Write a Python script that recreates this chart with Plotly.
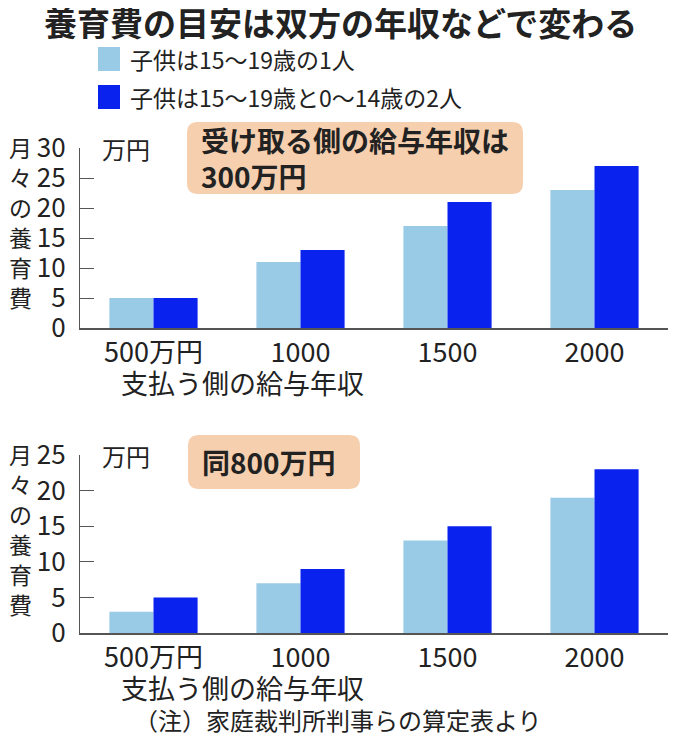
import plotly.graph_objects as go
from plotly.subplots import make_subplots

# data
categories = ["500万円", "1000", "1500", "2000"]
series_names = ["子供は15〜19歳の1人", "子供は15〜19歳と0〜14歳の2人"]
top_one_child = [5, 11, 17, 23]
top_two_children = [5, 13, 21, 27]
bottom_one_child = [3, 7, 13, 19]
bottom_two_children = [5, 9, 15, 23]

# the page puts the figure 8px in from the corner, so the figure is drawn 8px smaller
OFF = 8
W, H = 680 - OFF, 743 - OFF
FONT = "Noto Sans CJK JP"
TXT = "#222222"
LIGHT = "#9acbe6"
DARK = "#0a22ee"
BOXFILL = "#f6cfae"
AXIS = "#555555"


def px(x):
    # screen pixel -> paper x
    return (x - OFF) / W


def py(y):
    # screen pixel -> paper y
    return 1 - (y - OFF) / H


def rounded_box(x0, y0, x1, y1, r=11):
    pts = [
        ("M", [(x0 + r, y0)]), ("L", [(x1 - r, y0)]), ("Q", [(x1, y0), (x1, y0 + r)]),
        ("L", [(x1, y1 - r)]), ("Q", [(x1, y1), (x1 - r, y1)]),
        ("L", [(x0 + r, y1)]), ("Q", [(x0, y1), (x0, y1 - r)]),
        ("L", [(x0, y0 + r)]), ("Q", [(x0, y0), (x0 + r, y0)]),
    ]
    s = ""
    for cmd, ps in pts:
        s += cmd + " " + " ".join(f"{px(a):.5f},{py(b):.5f}" for a, b in ps) + " "
    return s + "Z"


fig = make_subplots(rows=2, cols=1)

fig.add_trace(go.Bar(x=categories, y=top_one_child, name=series_names[0],
                     marker=dict(color=LIGHT, line=dict(width=0))), row=1, col=1)
fig.add_trace(go.Bar(x=categories, y=top_two_children, name=series_names[1],
                     marker=dict(color=DARK, line=dict(width=0))), row=1, col=1)
fig.add_trace(go.Bar(x=categories, y=bottom_one_child, name=series_names[0],
                     marker=dict(color=LIGHT, line=dict(width=0))), row=2, col=1)
fig.add_trace(go.Bar(x=categories, y=bottom_two_children, name=series_names[1],
                     marker=dict(color=DARK, line=dict(width=0))), row=2, col=1)

xdom = [px(80), px(668)]
xaxis_style = dict(domain=xdom, showline=True, linecolor=AXIS, linewidth=1.5,
                   ticks="", showgrid=False, zeroline=False, range=[-0.5, 3.5],
                   automargin=False,
                   tickfont=dict(family=FONT, size=27, color=TXT), ticklabelstandoff=0)
yaxis_style = dict(showline=True, linecolor=AXIS, linewidth=1.2, ticks="inside",
                   ticklen=14, tickcolor=AXIS, tickwidth=1.2, showgrid=False,
                   zeroline=False, dtick=5, ticklabelstandoff=8, automargin=False,
                   tickfont=dict(family=FONT, size=26, color=TXT))

fig.update_layout(
    width=W, height=H,
    margin=dict(l=0, r=0, t=0, b=0),
    paper_bgcolor="white", plot_bgcolor="white",
    barmode="group", bargap=0.4, bargroupgap=0,
    showlegend=False,
    xaxis=xaxis_style, xaxis2=xaxis_style,
    yaxis=dict(yaxis_style, domain=[py(328), py(148)], range=[0, 30]),
    yaxis2=dict(yaxis_style, domain=[py(633), py(455)], range=[0, 25]),
)

shapes = []
annotations = []

# title
annotations.append(dict(text="<b>養育費の目安は双方の年収などで変わる</b>", x=px(340), y=py(22),
                        font=dict(size=33, color=TXT)))

# legend (hand drawn)
for i, (name, col) in enumerate(zip(series_names, [LIGHT, DARK])):
    yc = 59 + i * 38
    shapes.append(dict(type="rect", xref="paper", yref="paper", x0=px(98), x1=px(120),
                       y0=py(yc - 12), y1=py(yc + 12), fillcolor=col, line=dict(width=0)))
    annotations.append(dict(text=name, x=px(128), y=py(yc), xanchor="left",
                            font=dict(size=23, color=TXT)))

# panel decorations
for top, zero, box_text, box in [
    (148, 328, "<b>受け取る側の給与年収は<br>300万円</b>", (187, 122, 523, 194)),
    (455, 633, "<b>同800万円</b>", (188, 435, 360, 489)),
]:
    annotations.append(dict(text="月<br>々<br>の<br>養<br>育<br>費", x=px(20), y=py(top + 74),
                            font=dict(size=23, color=TXT)))
    annotations.append(dict(text="万円", x=px(100), y=py(top), xanchor="left",
                            font=dict(size=24, color=TXT)))
    annotations.append(dict(text="支払う側の給与年収", x=px(242), y=py(zero + 54),
                            font=dict(size=27, color=TXT)))
    x0, y0, x1, y1 = box
    shapes.append(dict(type="path", xref="paper", yref="paper", path=rounded_box(x0, y0, x1, y1),
                       fillcolor=BOXFILL, line=dict(width=0), layer="below"))
    annotations.append(dict(text=box_text, x=px(x0 + 12), y=py((y0 + y1) / 2), xanchor="left",
                            align="left", font=dict(size=28, color=TXT)))

# footnote
annotations.append(dict(text="（注）家庭裁判所判事らの算定表より", x=px(338), y=py(719),
                        font=dict(size=24, color=TXT)))

for a in annotations:
    a.setdefault("xref", "paper")
    a.setdefault("yref", "paper")
    a.setdefault("showarrow", False)
    a.setdefault("xanchor", "center")
    a.setdefault("yanchor", "middle")
    a["font"].setdefault("family", FONT)

fig.update_layout(shapes=shapes, annotations=annotations)

fig.write_html("out.html")
